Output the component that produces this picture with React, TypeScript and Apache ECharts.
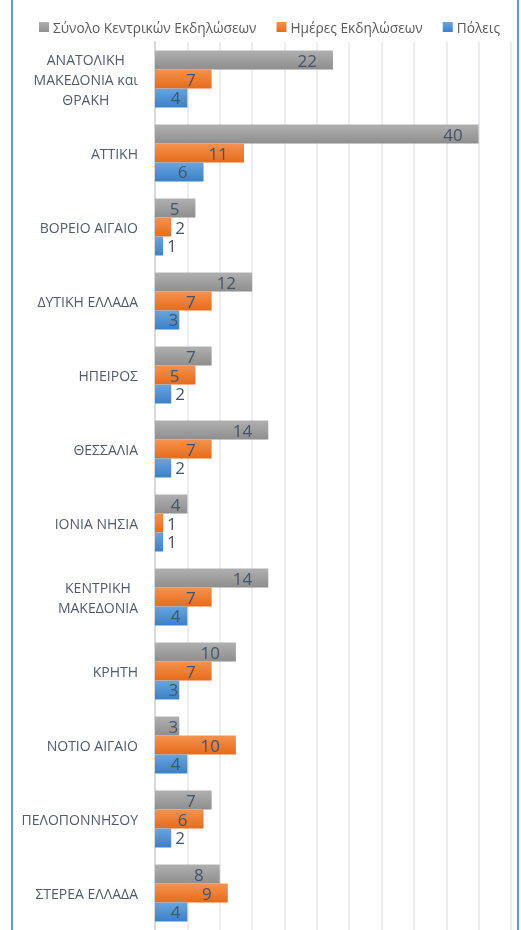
import React, { useEffect, useRef } from "react";
import * as echarts from "echarts";

const categories = [
  "ΑΝΑΤΟΛΙΚΗ\nΜΑΚΕΔΟΝΙΑ και\nΘΡΑΚΗ",
  "ΑΤΤΙΚΗ",
  "ΒΟΡΕΙΟ ΑΙΓΑΙΟ",
  "ΔΥΤΙΚΗ ΕΛΛΑΔΑ",
  "ΗΠΕΙΡΟΣ",
  "ΘΕΣΣΑΛΙΑ",
  "ΙΟΝΙΑ ΝΗΣΙΑ",
  "ΚΕΝΤΡΙΚΗ\nΜΑΚΕΔΟΝΙΑ",
  "ΚΡΗΤΗ",
  "ΝΟΤΙΟ ΑΙΓΑΙΟ",
  "ΠΕΛΟΠΟΝΝΗΣΟΥ",
  "ΣΤΕΡΕΑ ΕΛΛΑΔΑ",
];
const seriesNames = ["Σύνολο Κεντρικών Εκδηλώσεων", "Ημέρες Εκδηλώσεων", "Πόλεις"];
const totalEvents = [22, 40, 5, 12, 7, 14, 4, 14, 10, 3, 7, 8];
const eventDays = [7, 11, 2, 7, 5, 7, 1, 7, 7, 10, 6, 9];
const cities = [4, 6, 1, 3, 2, 2, 1, 4, 3, 4, 2, 4];

const FONT = "'Open Sans', 'Noto Sans', sans-serif";
const LABEL_COLOR = "#44546A";

const grad = (top: string, bottom: string) =>
  new echarts.graphic.LinearGradient(0, 0, 0, 1, [
    { offset: 0, color: top },
    { offset: 1, color: bottom },
  ]);

const makeData = (values: number[]) =>
  values.map((v) => {
    if (v <= 2) {
      return { value: v, label: { position: "right", distance: 4 } };
    }
    const d = v >= 5 ? 16 : v === 4 ? 7 : 1;
    return { value: v, label: { position: "insideRight", distance: d } };
  });

export default function App() {
  const ref = useRef<HTMLDivElement>(null);
  useEffect(() => {
    if (!ref.current) return;
    const chart = echarts.init(ref.current, null, { renderer: "svg" });
    const colors = [
      grad("#B0B0B0", "#8E8E8E"),
      grad("#F5924F", "#E56C1B"),
      grad("#67A5DF", "#3B80C7"),
    ];
    const valueSets = [totalEvents, eventDays, cities];
    chart.setOption({
      animation: false,
      legend: {
        top: 15,
        left: 34,
        itemWidth: 10,
        itemHeight: 10,
        itemGap: 20,
        icon: "rect",
        textStyle: { fontFamily: FONT, fontSize: 13.7, color: "#595959", padding: [0, 0, 0, -1] },
        data: seriesNames,
      },
      grid: { top: 42, bottom: 0, left: 155, right: 10, containLabel: false },
      xAxis: {
        type: "value",
        min: 0,
        max: 44,
        interval: 4,
        axisLabel: { show: false },
        axisLine: { show: false },
        axisTick: { show: false },
        splitLine: { show: true, lineStyle: { color: "#E3E6EA", width: 1.5 } },
      },
      yAxis: {
        type: "category",
        inverse: true,
        data: categories,
        axisTick: { show: false },
        axisLine: { show: true, lineStyle: { color: "#D5D9DF", width: 2 } },
        axisLabel: {
          margin: 17,
          align: "right",
          fontFamily: FONT,
          fontSize: 14,
          lineHeight: 20,
          color: "#505A6B",
          formatter: (v: string) =>
            v.includes("\n")
              ? v
                  .split("\n")
                  .map((l) => `{c|${l}}`)
                  .join("\n")
              : v,
          rich: {
            c: {
              align: "center",
              fontFamily: FONT,
              fontSize: 14,
              lineHeight: 20,
              color: "#505A6B",
            },
          },
        },
      },
      series: seriesNames.map((name, i) => ({
        name,
        type: "bar",
        data: makeData(valueSets[i]),
        barGap: "0%",
        barCategoryGap: "23%",
        itemStyle: { color: colors[i] },
        label: {
          show: true,
          fontFamily: FONT,
          fontSize: 17,
          lineHeight: 17,
          color: LABEL_COLOR,
        },
      })),
      graphic: [
        {
          type: "line",
          shape: { x1: 12, y1: 0, x2: 12, y2: 930 },
          style: { stroke: "#5B9BD5", lineWidth: 2 },
        },
        {
          type: "line",
          shape: { x1: 518, y1: 0, x2: 518, y2: 930 },
          style: { stroke: "#5B9BD5", lineWidth: 2 },
        },
      ],
    });
    return () => chart.dispose();
  }, []);
  return (
    <div
      ref={ref}
      style={{ position: "fixed", left: 0, top: 0, width: 521, height: 930 }}
    />
  );
}
